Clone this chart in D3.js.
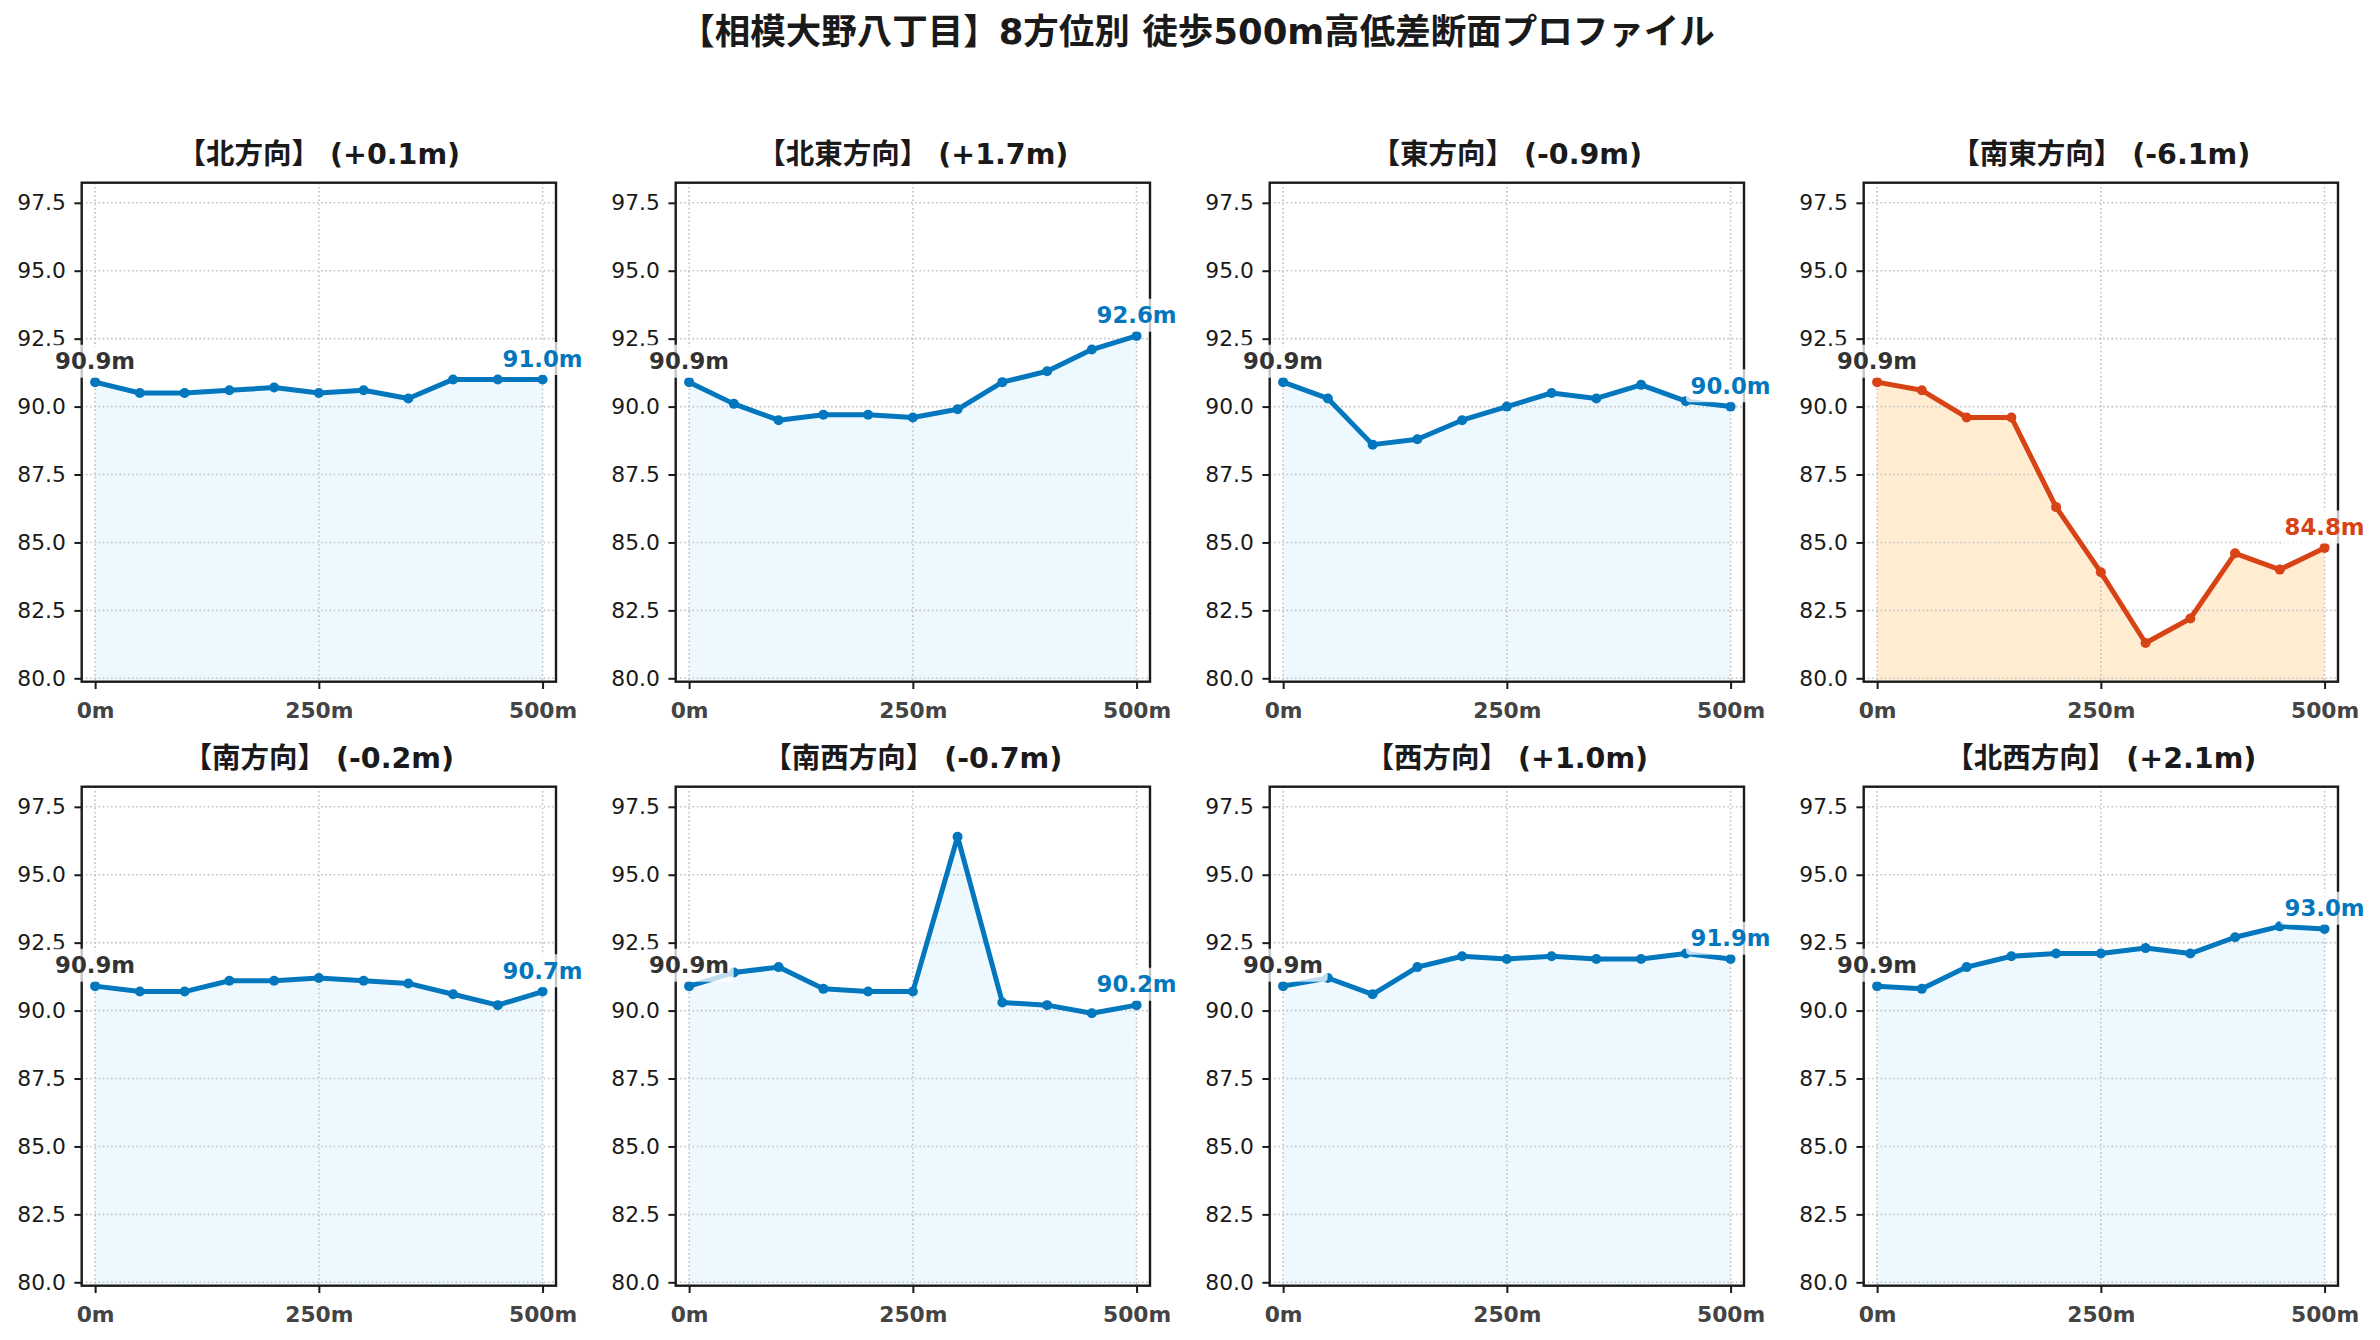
<!DOCTYPE html>
<html><head><meta charset="utf-8">
<script src="https://cdn.jsdelivr.net/npm/d3@7"></script>
<style>
body{margin:0;background:#fff;}
text{font-family:"DejaVu Sans","Noto Sans CJK JP",sans-serif;}
</style>
</head><body>
<svg id="chart" width="2380" height="1340"></svg>
<script>
// ---- data ----
const distances = [0, 50, 100, 150, 200, 250, 300, 350, 400, 450, 500];
const directions = ["北", "北東", "東", "南東", "南", "南西", "西", "北西"];
const elevNorth     = [90.9, 90.5, 90.5, 90.6, 90.7, 90.5, 90.6, 90.3, 91.0, 91.0, 91.0];
const elevNorthEast = [90.9, 90.1, 89.5, 89.7, 89.7, 89.6, 89.9, 90.9, 91.3, 92.1, 92.6];
const elevEast      = [90.9, 90.3, 88.6, 88.8, 89.5, 90.0, 90.5, 90.3, 90.8, 90.2, 90.0];
const elevSouthEast = [90.9, 90.6, 89.6, 89.6, 86.3, 83.9, 81.3, 82.2, 84.6, 84.0, 84.8];
const elevSouth     = [90.9, 90.7, 90.7, 91.1, 91.1, 91.2, 91.1, 91.0, 90.6, 90.2, 90.7];
const elevSouthWest = [90.9, 91.4, 91.6, 90.8, 90.7, 90.7, 96.4, 90.3, 90.2, 89.9, 90.2];
const elevWest      = [90.9, 91.2, 90.6, 91.6, 92.0, 91.9, 92.0, 91.9, 91.9, 92.1, 91.9];
const elevNorthWest = [90.9, 90.8, 91.6, 92.0, 92.1, 92.1, 92.3, 92.1, 92.7, 93.1, 93.0];
const elevations = [elevNorth, elevNorthEast, elevEast, elevSouthEast, elevSouth, elevSouthWest, elevWest, elevNorthWest];
const yTicks = [80, 82.5, 85, 87.5, 90, 92.5, 95, 97.5];
const xTicks = [0, 250, 500];
const mainTitle = "【相模大野八丁目】8方位別 徒歩500m高低差断面プロファイル";

// ---- layout / style ----
const yDomain = [79.875, 98.24];
const xDomain = [-15, 515];
const colLeft0 = 81.7, colStep = 594, pw = 474.3;
const rowTop0 = 182.7, rowStep = 604, ph = 499;
const BLUE = "#0277BD", BLUE_FILL = "#E1F5FE";
const RED = "#D84315", RED_FILL = "#FFE0B2";

const svg = d3.select("#chart");
svg.append("rect").attr("width", 2380).attr("height", 1340).attr("fill", "#fff");

svg.append("text")
  .attr("x", 1197).attr("y", 44)
  .attr("text-anchor", "middle")
  .attr("font-size", 35.5).attr("font-weight", "bold").attr("fill", "#1a1a1a")
  .text(mainTitle);

directions.forEach((dir, i) => {
  const vals = elevations[i];
  const data = distances.map((d, k) => ({d, e: vals[k]}));
  const diff = vals[vals.length - 1] - vals[0];
  const isDrop = diff <= -3;
  const lineColor = isDrop ? RED : BLUE;
  const fillColor = isDrop ? RED_FILL : BLUE_FILL;
  const col = i % 4, row = Math.floor(i / 4);
  const left = colLeft0 + col * colStep, top = rowTop0 + row * rowStep;

  const g = svg.append("g").attr("transform", `translate(${left},${top})`);
  const x = d3.scaleLinear().domain(xDomain).range([0, pw]);
  const y = d3.scaleLinear().domain(yDomain).range([ph, 0]);

  // fill
  g.append("path").datum(data)
    .attr("d", d3.area().x(d => x(d.d)).y0(y(yDomain[0])).y1(d => y(d.e)))
    .attr("fill", fillColor).attr("fill-opacity", 0.6);

  // grid
  const grid = g.append("g").attr("stroke", "#c4c4c4").attr("stroke-width", 1.6).attr("stroke-dasharray", "1.6,2.6");
  yTicks.forEach(t => grid.append("line").attr("x1", 0).attr("x2", pw).attr("y1", y(t)).attr("y2", y(t)));
  xTicks.forEach(t => grid.append("line").attr("x1", x(t)).attr("x2", x(t)).attr("y1", 0).attr("y2", ph));

  // line + markers
  g.append("path").datum(data)
    .attr("d", d3.line().x(d => x(d.d)).y(d => y(d.e)))
    .attr("fill", "none").attr("stroke", lineColor).attr("stroke-width", 5)
    .attr("stroke-linejoin", "round").attr("stroke-linecap", "round");
  g.selectAll("circle.pt").data(data).enter().append("circle")
    .attr("cx", d => x(d.d)).attr("cy", d => y(d.e)).attr("r", 5).attr("fill", lineColor);

  // axes
  const ya = g.append("g").call(d3.axisLeft(y).tickValues(yTicks).tickFormat(d3.format(".1f")).tickSize(7.3).tickPadding(8.5).tickSizeOuter(0));
  ya.select(".domain").remove();
  ya.selectAll("line").attr("stroke", "#1a1a1a").attr("stroke-width", 2);
  ya.selectAll("text").attr("font-size", 21.8).attr("fill", "#1a1a1a").attr("font-family", "DejaVu Sans");

  const xa = g.append("g").attr("transform", `translate(0,${ph})`)
    .call(d3.axisBottom(x).tickValues(xTicks).tickFormat(d => d + "m").tickSize(7.3).tickPadding(7.3).tickSizeOuter(0));
  xa.select(".domain").remove();
  xa.selectAll("line").attr("stroke", "#1a1a1a").attr("stroke-width", 2);
  xa.selectAll("text").attr("font-size", 21.8).attr("font-weight", "bold").attr("fill", "#444")
    .attr("font-family", "DejaVu Sans").attr("y", 20.8).attr("dy", "0.71em");

  // frame
  g.append("rect").attr("width", pw).attr("height", ph)
    .attr("fill", "none").attr("stroke", "#1a1a1a").attr("stroke-width", 2.4);

  // subplot title
  const sign = diff >= 0 ? "+" : "-";
  g.append("text").attr("x", pw / 2).attr("y", -19)
    .attr("text-anchor", "middle").attr("font-size", 28.5).attr("font-weight", "bold").attr("fill", "#1a1a1a")
    .text(`【${dir}方向】 (${sign}${Math.abs(diff).toFixed(1)}m)`);

  // annotations
  function label(pt, color) {
    const lg = g.append("g");
    const t = lg.append("text")
      .attr("x", x(pt.d)).attr("y", y(pt.e) - 20.8)
      .attr("text-anchor", "middle").attr("dominant-baseline", "central")
      .attr("font-size", 22.8).attr("font-weight", "bold").attr("fill", color)
      .attr("font-family", "DejaVu Sans")
      .text(pt.e.toFixed(1) + "m");
    const bb = t.node().getBBox();
    const pad = 4.5;
    lg.insert("rect", "text")
      .attr("x", bb.x - pad).attr("y", bb.y - pad + 1)
      .attr("width", bb.width + 2 * pad).attr("height", bb.height + 2 * pad - 2)
      .attr("rx", 4).attr("fill", "#fff").attr("fill-opacity", 0.75);
  }
  label(data[0], "#333");
  label(data[data.length - 1], lineColor);
});
</script>
</body></html>
